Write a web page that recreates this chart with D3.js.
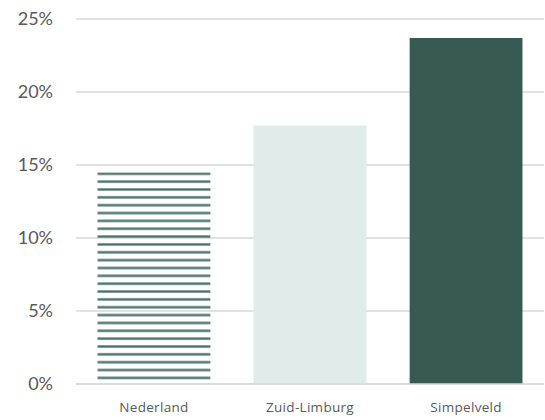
<!DOCTYPE html>
<html><head><meta charset="utf-8">
<script src="https://cdn.jsdelivr.net/npm/d3@7"></script>
<style>body{margin:0;background:#fff}svg{display:block}text{font-family:Lato,"Open Sans",sans-serif;fill:#595959}</style>
</head><body><svg id="c" width="545" height="420"></svg>
<script>
const categories = ["Nederland", "Zuid-Limburg", "Simpelveld"];
const values = [0.145, 0.177, 0.237];
const yTicks = [0, 0.05, 0.10, 0.15, 0.20, 0.25];
const fills = ["stripes", "#e0ecea", "#375a53"];

const svg = d3.select("#c");
const x = d3.scaleBand().domain(categories).range([76, 544]).paddingInner(0.277).paddingOuter(0.138);
const y = d3.scaleLinear().domain([0, 0.25]).range([384, 19]);

const defs = svg.append("defs");
const pat = defs.append("pattern").attr("id", "stripes").attr("patternUnits", "userSpaceOnUse")
  .attr("x", 0).attr("y", y(values[0])).attr("width", 10).attr("height", 7.85);
pat.append("rect").attr("x", 0).attr("y", 0).attr("width", 10).attr("height", 3).attr("fill", "#a9bcb7");
pat.append("rect").attr("x", 0).attr("y", 0.6).attr("width", 10).attr("height", 1.8).attr("fill", "#4a6f66");

// gridlines
svg.append("g").selectAll("line").data(yTicks).join("line")
  .attr("x1", 76).attr("x2", 544).attr("y1", d => y(d)).attr("y2", d => y(d))
  .attr("stroke", "#d9d9d9").attr("stroke-width", 1.5);

// y axis labels
const yAxis = d3.axisLeft(y).tickValues(yTicks).tickFormat(d3.format(".0%")).tickSize(0).tickPadding(0);
const ga = svg.append("g").attr("transform", "translate(53,0)").call(yAxis);
ga.select(".domain").remove();
ga.selectAll("text").attr("font-size", 18).attr("fill", "#595959").style("font-family", "Lato, sans-serif");

// bars
svg.append("g").selectAll("rect").data(categories).join("rect")
  .attr("x", d => x(d)).attr("width", x.bandwidth())
  .attr("y", (d, i) => y(values[i]))
  .attr("height", (d, i) => y(0) - y(values[i]))
  .attr("fill", (d, i) => fills[i] === "stripes" ? "url(#stripes)" : fills[i]);

// redraw baseline on top
svg.append("line").attr("x1", 76).attr("x2", 544).attr("y1", y(0)).attr("y2", y(0))
  .attr("stroke", "#d9d9d9").attr("stroke-width", 1.5);

// x labels
const xAxis = d3.axisBottom(x).tickSize(0).tickPadding(0);
const gx = svg.append("g").attr("transform", "translate(0,402)").call(xAxis);
gx.select(".domain").remove();
gx.selectAll("text").attr("font-size", 13.5).attr("fill", "#595959")
  .style("font-family", "'Open Sans', sans-serif").style("letter-spacing", "0.3px");
</script></body></html>
